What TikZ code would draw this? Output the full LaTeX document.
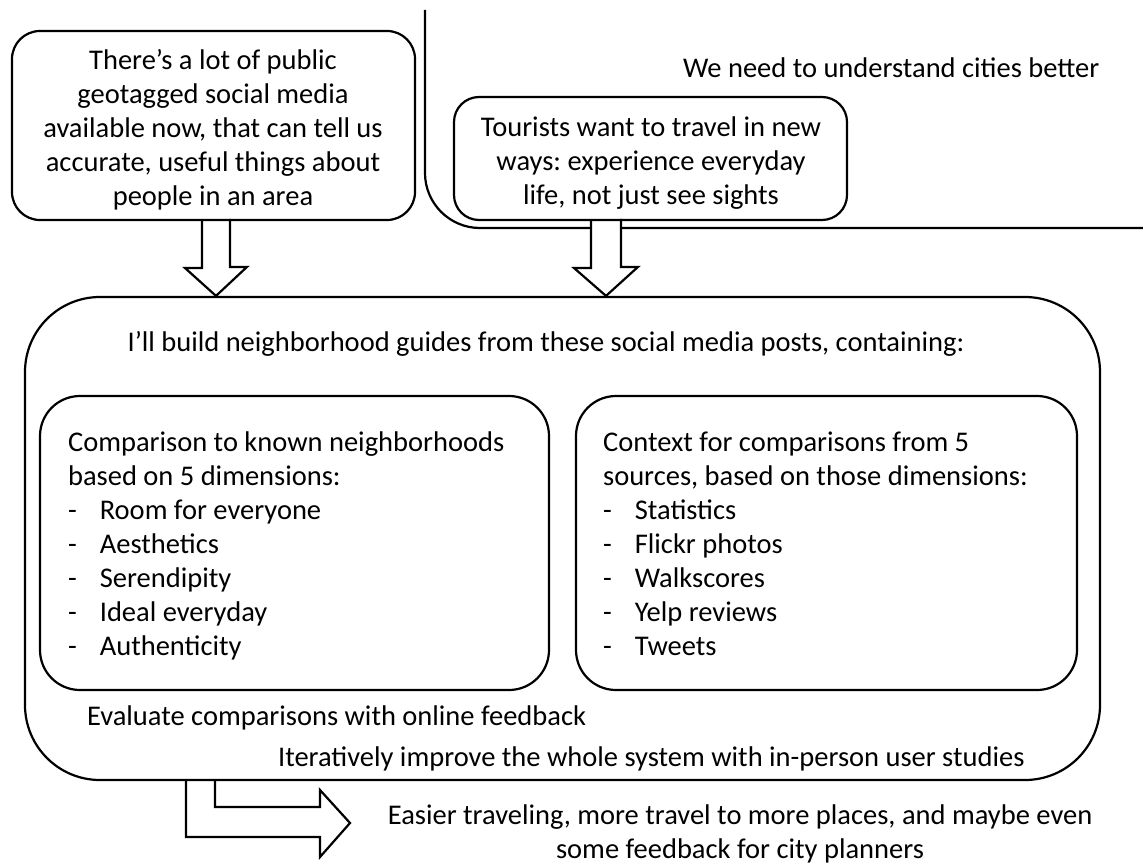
\documentclass[tikz,border=0pt]{standalone}
\usepackage{fontspec}
\setmainfont{Carlito}
\usetikzlibrary{backgrounds,calc}
\frenchspacing
\begin{document}
\begin{tikzpicture}[x=1pt,y=-1pt,line width=2.2pt,line join=round,
  rbox/.style={draw,rounded corners=#1,inner sep=0pt},
  txt/.style={inner sep=0pt,font=\fontsize{28.5}{34}\selectfont,text=black},
  lline/.style={draw=black,line width=2.2pt},
  fatarrow/.style={draw=black,fill=white,line width=2.2pt,line join=miter}]
\useasboundingbox (0,0) rectangle (1143,864);
% boxes
\node[rbox=28,minimum width=403,minimum height=189] (b1) at (213.5,125.5) {};
\node[rbox=25,minimum width=393,minimum height=123] (b2) at (650.5,158.5) {};
\node[rbox=75,minimum width=1075,minimum height=483] (big) at (562.5,538.5) {};
\node[rbox=40,minimum width=509,minimum height=294] (lb) at (294.5,543) {};
\node[rbox=40,minimum width=501,minimum height=294] (rb) at (826.5,543) {};
% texts (multi-line nodes: base = baseline of last line)
\node[txt,align=center,anchor=base] (t1) at (213,205) {There’s a lot of public\\geotagged social media\\available now, that can tell us\\accurate, useful things about\\people in an area};
\node[txt,anchor=base west] (t0) at (682,78) {We need to understand cities better};
\node[txt,align=center,anchor=base] (t2) at (651,204) {Tourists want to travel in new\\ways: experience everyday\\life, not just see sights};
\node[txt,anchor=base] (t3) at (546,351) {I’ll build neighborhood guides from these social media posts, containing:};
\node[txt,align=left,anchor=base west] (t4) at (67,655) {Comparison to known neighborhoods\\based on 5 dimensions:\\-\hspace{23pt}Room for everyone\\-\hspace{23pt}Aesthetics\\-\hspace{23pt}Serendipity\\-\hspace{23pt}Ideal everyday\\-\hspace{23pt}Authenticity};
\node[txt,align=left,anchor=base west] (t5) at (602,655) {Context for comparisons from 5\\sources, based on those dimensions:\\-\hspace{23pt}Statistics\\-\hspace{23pt}Flickr photos\\-\hspace{23pt}Walkscores\\-\hspace{23pt}Yelp reviews\\-\hspace{23pt}Tweets};
\node[txt,anchor=base west] (t6) at (86,725) {Evaluate comparisons with online feedback};
\node[txt,anchor=base west] (t7) at (277,766) {Iteratively improve the whole system with in-person user studies};
\node[txt,align=center,anchor=base] (t8) at (740,858) {Easier traveling, more travel to more places, and maybe even\\some feedback for city planners};
% connectors
\coordinate (Ltop) at (425,10);
\coordinate (Lend) at (1143,228);
\coordinate (a1) at (216,220);
\coordinate (a2) at (606,220);
\coordinate (a3) at (186,780);
\begin{scope}[on background layer]
\path[lline,rounded corners=55] (Ltop) |- (Lend);
\path[fatarrow] ($(a1)+(-14,0)$) -- ++(0,48) -- ++(-17,0) -- (a1 |- big.north) -- ++(31,-29) -- ++(-17,0) -- ++(0,-48);
\path[fatarrow] ($(a2)+(-15,0)$) -- ++(0,48) -- ++(-17,0) -- (a2 |- big.north) -- ++(32,-29) -- ++(-17,0) -- ++(0,-48);
\path[fatarrow] (a3) -- ++(0,57) -- ++(134,0) -- ++(0,20) -- ++(30,-34) -- ++(-30,-33) -- ++(0,17) -- ++(-105,0) -- ++(0,-27);
\end{scope}
\end{tikzpicture}
\end{document}
